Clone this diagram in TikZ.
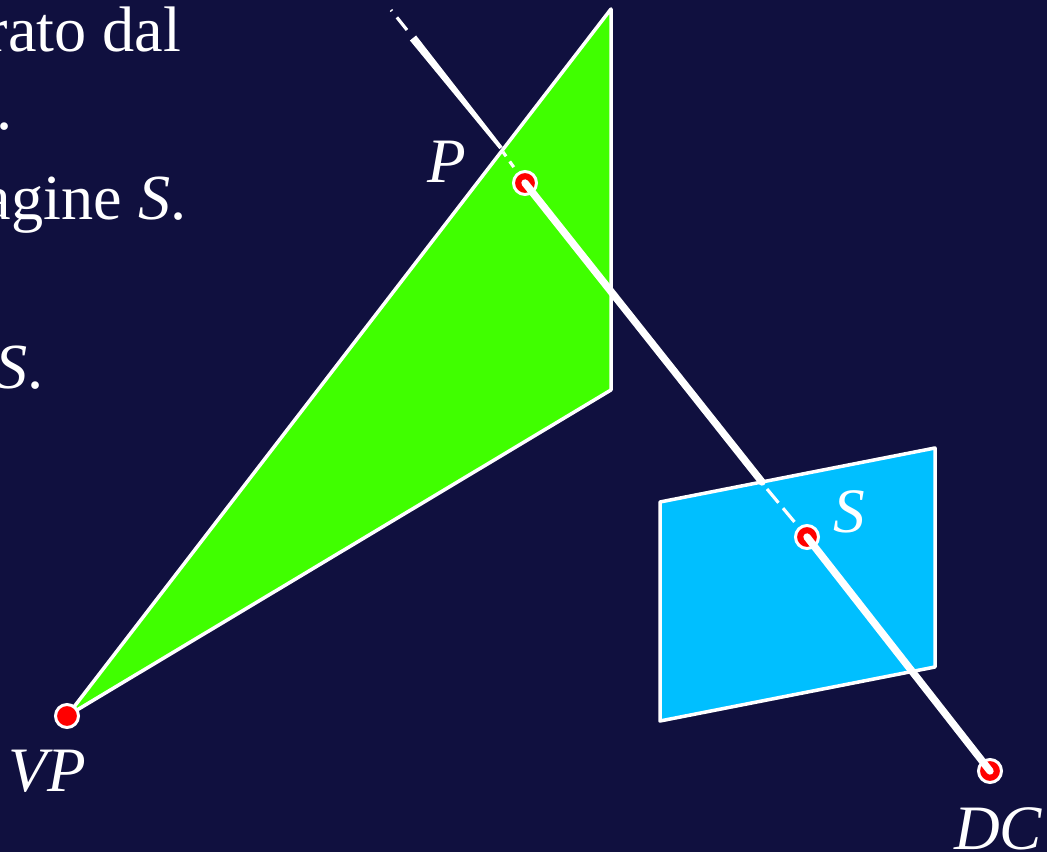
\documentclass[tikz,border=0pt]{standalone}
\usepackage{fontspec}
\setmainfont{Liberation Serif}
\usepackage{xcolor}
\usetikzlibrary{calc}
\definecolor{nightblue}{HTML}{10103F}
\definecolor{planegreen}{HTML}{40FF00}
\definecolor{screenblue}{HTML}{00BFFF}

\begin{document}
\begin{tikzpicture}[
      x=0.1mm,
      y=-0.1mm,
      plane/.style={
        draw=white,
        line width=1pt,
        line join=round
      },
      point/.style={
        circle,
        draw=white,
        fill=red,
        line width=0.85pt,
        inner sep=0pt,
        minimum size=2.3mm
      },
      ray/.style={
        white,
        line width=2.1pt,
        line cap=round
      },
      hidden/.style={
        white,
        line width=0.9pt
      },
      ptlabel/.style={
        text=white,
        inner sep=0pt,
        font=\fontsize{18}{18}\selectfont\itshape
      },
      body/.style={
        text=white,
        inner sep=0pt,
        anchor=base east,
        font=\fontsize{18.3}{18.3}\selectfont
      }
    ]

    \useasboundingbox (0,0) rectangle (1047,852);
    \clip (0,0) rectangle (1047,852);
    \fill[nightblue] (0,0) rectangle (1047,852);

    \node[body] (line1) at (182,52) {rato dal};
    \node[body] (line2) at (13,130) {.};
    \node[body] (line3) at (187,220) {agine \textit{S}.};
    \node[body] (line4) at (44,389) {\textit{S}.};

    \fill[planegreen, plane] (67,716) -- (611,9) -- (611,390) -- cycle;
    \fill[screenblue, plane] (660,502) -- (935,448) -- (935,667) -- (660,721) -- cycle;

    \node[point] (vp) at (67,716) {};
    \node[point] (pp) at (525,183) {};
    \node[point] (ss) at (807,537) {};
    \node[point] (dc) at (990,771) {};

    \node[ptlabel] (vplabel) at ($(vp)+(-20,55)$) {VP};
    \node[ptlabel] (pplabel) at ($(pp)+(-78,-21)$) {P};
    \node[ptlabel] (sslabel) at ($(ss)+(42,-25)$) {S};
    \node[ptlabel] (dclabel) at ($(dc)+(8,58)$) {DC};

    \coordinate (screenhit) at (762,482);
    \coordinate (screendash) at (767,489);
    \coordinate (planehit) at (501,148);
    \coordinate (planedash) at (503,152);
    \coordinate (raytop) at (413,38);
    \coordinate (topdash) at (407,30);
    \coordinate (rayend) at (391,10);

    \draw[ray] (dc.center) -- (ss.center);
    \draw[ray] (pp.center) -- (screenhit);
    \fill[white, line join=round] ($(raytop)+(3.1,-2.5)$) -- ($(planehit)+(1.6,-1.2)$)
      -- ($(planehit)-(1.6,-1.2)$) -- ($(raytop)-(3.1,-2.5)$) -- cycle;

    \draw[hidden, dash pattern=on 5.1pt off 2pt] (screendash) -- (ss);
    \draw[hidden, dash pattern=on 1.5pt off 1.8pt on 2pt off 10pt] (planedash) -- (pp);
    \draw[hidden, dash pattern=on 4.6pt off 2.3pt] (topdash) -- (rayend);

    \end{tikzpicture}
\end{document}
